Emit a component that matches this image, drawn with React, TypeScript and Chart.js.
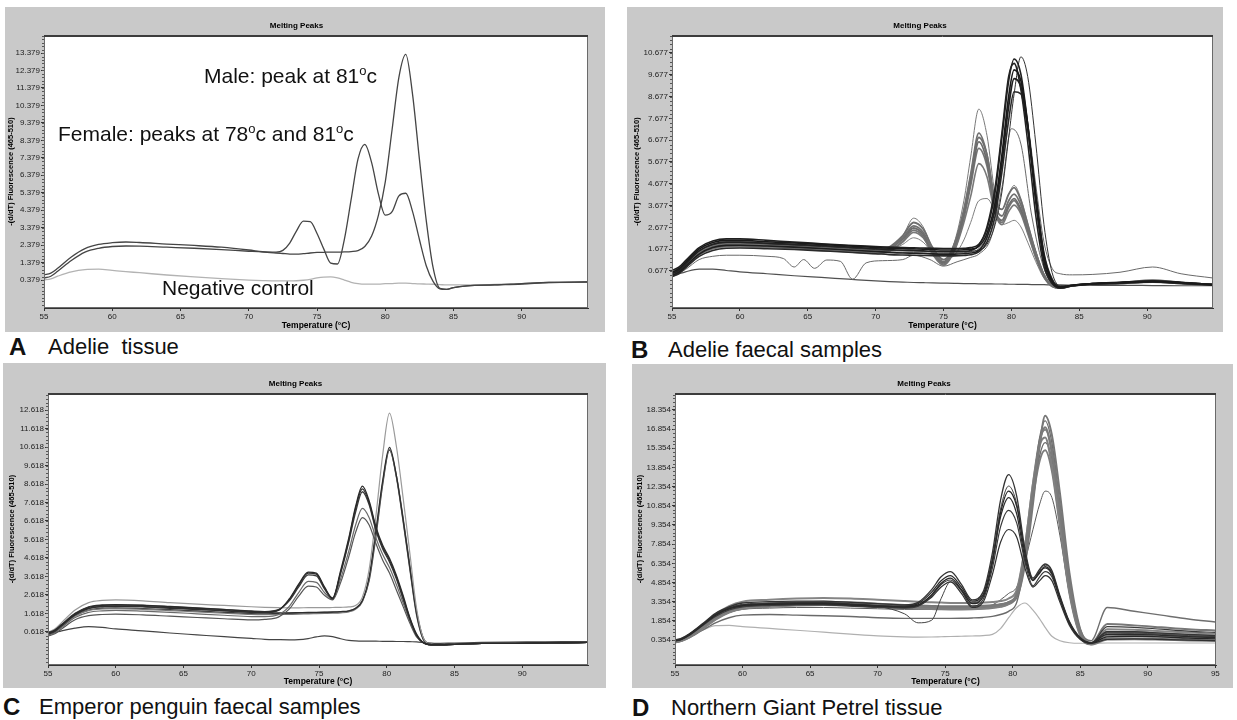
import React, { useEffect, useRef } from "react";
import { Chart, registerables } from "chart.js";

Chart.register(...registerables);

// ---------------- tick labels ----------------
const xTicksABC = [55, 60, 65, 70, 75, 80, 85, 90];
const xTicksD = [55, 60, 65, 70, 75, 80, 85, 90, 95];
const yTicksA = [0.379, 1.379, 2.379, 3.379, 4.379, 5.379, 6.379, 7.379, 8.379, 9.379, 10.379, 11.379, 12.379, 13.379];
const yTicksB = [0.677, 1.677, 2.677, 3.677, 4.677, 5.677, 6.677, 7.677, 8.677, 9.677, 10.677];
const yTicksC = [0.618, 1.618, 2.618, 3.618, 4.618, 5.618, 6.618, 7.618, 8.618, 9.618, 10.618, 11.618, 12.618];
const yTicksD = [0.354, 1.854, 3.354, 4.854, 6.354, 7.854, 9.354, 10.854, 12.354, 13.854, 15.354, 16.854, 18.354];

// ---------------- Panel A : Adelie tissue ----------------
const tempA = [55, 55.5, 56, 57, 58, 59, 60, 61, 62, 64, 66, 68, 70, 71, 72, 72.5, 73, 73.5, 74, 74.5, 75, 75.5, 76, 76.5, 77, 77.5, 78, 78.5, 79, 79.5, 80, 80.5, 81, 81.5, 82, 82.5, 83, 83.5, 84, 84.5, 85, 86, 88, 90, 92, 94.8];
const maleA = [0.67, 0.78, 1.05, 1.7, 2.18, 2.42, 2.52, 2.56, 2.53, 2.44, 2.36, 2.26, 2.1, 2.0, 1.93, 1.9, 1.87, 1.86, 1.89, 1.93, 1.96, 1.97, 1.98, 1.98, 1.99, 2.01, 2.06, 2.3, 2.9, 4.1, 6.0, 9.0, 12.0, 13.3, 11.0, 7.3, 3.8, 1.1, -0.1, -0.15, -0.05, 0.05, 0.1, 0.15, 0.24, 0.27];
const femaleA = [0.5, 0.6, 0.88, 1.5, 1.98, 2.2, 2.3, 2.33, 2.32, 2.26, 2.2, 2.12, 2.03, 1.99, 1.98, 2.08, 2.5, 3.2, 3.75, 3.72, 3.05, 2.15, 1.35, 1.3, 2.7, 5.0, 7.3, 8.15, 7.1, 5.3, 4.1, 4.3, 5.2, 5.35, 4.3, 2.7, 1.2, 0.3, -0.12, -0.15, -0.05, 0.05, 0.1, 0.18, 0.25, 0.27];
const controlA = [0.38, 0.45, 0.6, 0.85, 0.98, 1.0, 0.93, 0.86, 0.8, 0.67, 0.56, 0.46, 0.38, 0.35, 0.33, 0.33, 0.33, 0.34, 0.37, 0.42, 0.5, 0.55, 0.56, 0.5, 0.38, 0.25, 0.18, 0.15, 0.15, 0.15, 0.17, 0.18, 0.2, 0.2, 0.18, 0.16, 0.15, 0.14, 0.12, 0.1, 0.1, 0.1, 0.13, 0.18, 0.23, 0.26];

// ---------------- Panel B : Adelie faecal samples ----------------
const tempB = [55, 55.5, 56, 57, 58, 59, 60, 62, 64, 66, 68, 70, 71, 72, 72.8, 73.5, 74.2, 75, 75.8, 76.5, 77, 77.6, 78.2, 78.8, 79.3, 79.8, 80.2, 80.7, 81.2, 81.8, 82.4, 83, 83.6, 84.5, 86, 88, 90.4, 92.5, 94.8];
const maleB1 = [0.62, 0.78, 1.08, 1.68, 1.98, 2.08, 2.08, 2.02, 1.96, 1.9, 1.83, 1.76, 1.72, 1.7, 1.69, 1.68, 1.66, 1.64, 1.64, 1.65, 1.68, 1.8, 2.4, 3.8, 6.0, 8.7, 9.9, 9.4, 7.4, 4.0, 1.3, 0.2, -0.08, 0.02, 0.1, 0.15, 0.2, 0.14, 0.05];
const maleB2 = [0.55, 0.7, 1.0, 1.6, 1.9, 2.0, 2.0, 1.95, 1.9, 1.84, 1.77, 1.7, 1.66, 1.63, 1.62, 1.6, 1.58, 1.57, 1.57, 1.58, 1.62, 1.85, 2.7, 4.5, 7.0, 9.6, 10.2, 9.0, 6.6, 3.2, 0.9, 0.1, -0.1, 0.0, 0.08, 0.12, 0.18, 0.12, 0.04];
const maleB3 = [0.48, 0.62, 0.9, 1.45, 1.75, 1.85, 1.86, 1.82, 1.77, 1.71, 1.64, 1.57, 1.53, 1.5, 1.49, 1.48, 1.46, 1.45, 1.45, 1.47, 1.5, 1.62, 2.2, 3.5, 5.6, 8.2, 9.5, 9.1, 7.3, 4.1, 1.4, 0.25, -0.05, 0.02, 0.1, 0.14, 0.22, 0.15, 0.06];
const maleB4 = [0.42, 0.55, 0.82, 1.35, 1.62, 1.72, 1.73, 1.7, 1.66, 1.6, 1.54, 1.47, 1.43, 1.41, 1.4, 1.39, 1.38, 1.37, 1.37, 1.39, 1.42, 1.55, 2.0, 3.2, 5.2, 7.6, 8.9, 8.8, 7.2, 4.2, 1.5, 0.3, -0.05, 0.0, 0.08, 0.12, 0.17, 0.1, 0.03];
const maleB5 = [0.7, 0.85, 1.15, 1.75, 2.05, 2.15, 2.15, 2.08, 2.0, 1.93, 1.86, 1.8, 1.77, 1.75, 1.74, 1.73, 1.72, 1.71, 1.71, 1.72, 1.75, 1.9, 2.6, 4.3, 6.8, 9.4, 10.4, 9.7, 7.4, 3.8, 1.1, 0.15, -0.1, 0.0, 0.1, 0.16, 0.22, 0.15, 0.06];
const maleB6 = [0.58, 0.72, 1.02, 1.6, 1.88, 1.98, 1.98, 1.92, 1.86, 1.8, 1.73, 1.66, 1.62, 1.6, 1.59, 1.58, 1.56, 1.55, 1.55, 1.56, 1.58, 1.64, 1.9, 2.8, 4.3, 6.8, 8.8, 10.5, 9.6, 6.5, 2.8, 0.6, 0.0, 0.02, 0.1, 0.14, 0.2, 0.14, 0.05];
const femaleB1 = [0.52, 0.66, 0.96, 1.55, 1.85, 1.95, 1.95, 1.9, 1.84, 1.77, 1.7, 1.63, 1.72, 2.2, 2.75, 2.45, 1.6, 1.1, 1.9, 3.5, 5.1, 7.0, 6.0, 3.7, 3.2, 3.9, 4.2, 3.7, 2.7, 1.5, 0.5, 0.0, -0.1, 0.0, 0.08, 0.12, 0.24, 0.14, 0.06];
const femaleB2 = [0.5, 0.64, 0.93, 1.5, 1.8, 1.9, 1.9, 1.86, 1.8, 1.73, 1.66, 1.58, 1.68, 2.15, 2.65, 2.35, 1.55, 1.05, 1.8, 3.3, 4.8, 6.6, 5.7, 3.5, 3.0, 3.7, 4.0, 3.5, 2.6, 1.4, 0.45, -0.02, -0.1, 0.0, 0.08, 0.12, 0.22, 0.13, 0.05];
const femaleB3 = [0.45, 0.58, 0.86, 1.42, 1.7, 1.8, 1.8, 1.76, 1.7, 1.63, 1.56, 1.48, 1.58, 2.05, 2.55, 2.25, 1.45, 0.95, 1.65, 3.1, 4.6, 6.3, 5.5, 3.4, 2.9, 3.6, 3.9, 3.4, 2.5, 1.3, 0.4, -0.03, -0.1, 0.0, 0.07, 0.1, 0.2, 0.12, 0.05];
const femaleB4 = [0.56, 0.7, 1.0, 1.6, 1.9, 2.0, 2.0, 1.95, 1.89, 1.82, 1.75, 1.68, 1.78, 2.3, 2.9, 2.6, 1.75, 1.2, 1.9, 3.4, 5.0, 6.8, 6.0, 3.9, 3.5, 4.2, 4.5, 3.9, 2.8, 1.5, 0.5, 0.0, -0.08, 0.02, 0.1, 0.14, 0.26, 0.15, 0.06];
const femaleB5 = [0.48, 0.6, 0.88, 1.45, 1.72, 1.82, 1.83, 1.8, 1.75, 1.68, 1.6, 1.52, 1.6, 2.0, 2.45, 2.2, 1.5, 1.0, 1.6, 2.9, 4.1, 5.6, 5.0, 3.3, 2.8, 3.4, 3.7, 3.3, 2.4, 1.3, 0.42, 0.0, -0.08, 0.0, 0.08, 0.1, 0.2, 0.12, 0.05];
const femaleB6 = [0.54, 0.68, 0.98, 1.58, 1.88, 1.98, 1.98, 1.93, 1.87, 1.8, 1.72, 1.65, 1.75, 2.3, 3.1, 2.7, 1.7, 1.1, 2.0, 3.9, 5.9, 8.1, 6.9, 4.2, 3.5, 4.2, 4.6, 4.0, 2.9, 1.6, 0.55, 0.02, -0.1, 0.0, 0.08, 0.12, 0.22, 0.13, 0.05];
const femaleB7 = [0.5, 0.63, 0.92, 1.48, 1.76, 1.86, 1.86, 1.82, 1.77, 1.7, 1.63, 1.55, 1.6, 1.9, 2.2, 2.0, 1.5, 1.2, 1.4, 2.1, 2.9, 3.9, 4.0, 3.4, 2.8, 2.9, 3.0, 2.7, 2.0, 1.1, 0.35, 0.0, -0.05, 0.0, 0.08, 0.1, 0.18, 0.1, 0.04];
const tailB = [0.5, 0.64, 0.94, 1.5, 1.78, 1.88, 1.88, 1.84, 1.78, 1.72, 1.65, 1.58, 1.55, 1.53, 1.52, 1.51, 1.5, 1.5, 1.5, 1.52, 1.56, 1.7, 2.3, 3.7, 5.9, 8.4, 9.5, 9.2, 7.5, 4.6, 2.0, 0.8, 0.55, 0.5, 0.52, 0.62, 0.86, 0.55, 0.36];
const controlB = [0.45, 0.55, 0.64, 0.76, 0.76, 0.7, 0.64, 0.55, 0.46, 0.38, 0.3, 0.22, 0.19, 0.17, 0.15, 0.14, 0.13, 0.12, 0.11, 0.1, 0.1, 0.09, 0.09, 0.08, 0.08, 0.07, 0.07, 0.06, 0.06, 0.05, 0.05, 0.04, 0.04, 0.03, 0.02, 0.02, 0.01, 0.0, 0.0];
const tempWiggleB = [55, 56, 57, 58, 59, 60, 62, 63.2, 64, 64.7, 65.5, 66.4, 67.4, 68.3, 69.3, 70.5, 72, 72.8, 74, 75, 76, 77, 77.6, 78.5, 79.3, 80, 80.7, 81.5, 82.4, 83.2, 84.5, 86, 88, 90.4, 92.5, 94.8];
const wiggleB = [0.4, 0.75, 1.2, 1.35, 1.4, 1.4, 1.35, 1.25, 0.86, 1.2, 0.8, 1.18, 1.12, 0.3, 1.05, 1.15, 1.2, 1.4, 1.2, 0.9, 1.1, 1.3, 1.45, 2.2, 4.5, 7.2, 6.5, 3.2, 0.8, 0.0, 0.0, 0.06, 0.1, 0.15, 0.1, 0.04];

// ---------------- Panel C : Emperor penguin faecal samples ----------------
const tempC = [55, 55.5, 56, 57, 58, 59, 60, 62, 64, 66, 68, 70, 71, 72, 72.8, 73.5, 74.2, 74.8, 75.4, 76, 76.6, 77.2, 77.7, 78.2, 78.7, 79.2, 79.7, 80.2, 80.7, 81.2, 81.7, 82.2, 82.8, 83.5, 85, 87, 89, 91, 93, 94.8];
const femaleC1 = [0.55, 0.7, 1.0, 1.6, 1.95, 2.05, 2.08, 2.05, 1.98, 1.9, 1.82, 1.73, 1.7, 1.8, 2.4, 3.2, 3.85, 3.8, 3.05, 2.45, 3.95, 5.7, 7.4, 8.5, 7.7, 6.3, 5.3, 4.6, 3.7, 2.6, 1.4, 0.5, 0.0, -0.08, -0.05, 0.0, 0.0, 0.02, 0.03, 0.05];
const femaleC2 = [0.5, 0.65, 0.95, 1.55, 1.9, 2.0, 2.03, 2.0, 1.93, 1.85, 1.77, 1.68, 1.66, 1.78, 2.35, 3.15, 3.8, 3.75, 3.0, 2.4, 3.85, 5.6, 7.3, 8.35, 7.6, 6.2, 5.2, 4.5, 3.6, 2.5, 1.35, 0.45, 0.0, -0.08, -0.05, 0.0, 0.0, 0.02, 0.03, 0.05];
const femaleC3 = [0.58, 0.72, 1.02, 1.62, 1.98, 2.08, 2.1, 2.07, 2.0, 1.92, 1.84, 1.75, 1.72, 1.82, 2.3, 3.05, 3.7, 3.65, 2.95, 2.45, 3.8, 5.5, 7.1, 8.2, 7.5, 6.1, 5.1, 4.4, 3.5, 2.4, 1.3, 0.42, 0.0, -0.08, -0.05, 0.0, 0.0, 0.02, 0.03, 0.05];
const femaleC4 = [0.45, 0.58, 0.86, 1.4, 1.68, 1.76, 1.78, 1.74, 1.68, 1.6, 1.52, 1.45, 1.45, 1.55, 2.0, 2.75, 3.35, 3.3, 2.75, 2.4, 3.5, 5.0, 6.4, 7.3, 6.8, 5.7, 4.8, 4.1, 3.2, 2.2, 1.2, 0.4, 0.0, -0.08, -0.05, 0.0, 0.0, 0.02, 0.03, 0.05];
const femaleC5 = [0.4, 0.52, 0.78, 1.28, 1.5, 1.56, 1.58, 1.54, 1.47, 1.4, 1.33, 1.27, 1.3, 1.42, 1.85, 2.55, 3.1, 3.05, 2.6, 2.35, 3.3, 4.7, 6.0, 6.8, 6.4, 5.4, 4.5, 3.8, 2.9, 2.0, 1.1, 0.35, 0.0, -0.08, -0.05, 0.0, 0.0, 0.02, 0.03, 0.05];
const maleC1 = [0.6, 0.78, 1.12, 1.8, 2.2, 2.32, 2.35, 2.3, 2.2, 2.12, 2.05, 1.98, 1.95, 1.93, 1.92, 1.92, 1.93, 1.93, 1.93, 1.94, 1.95, 1.97, 2.05, 2.5, 4.0, 6.9, 10.2, 12.45, 10.7, 7.9, 4.9, 1.9, 0.15, -0.08, -0.05, 0.0, 0.0, 0.02, 0.03, 0.05];
const maleC2 = [0.52, 0.66, 0.96, 1.55, 1.88, 1.98, 2.0, 1.97, 1.9, 1.83, 1.76, 1.68, 1.66, 1.65, 1.65, 1.66, 1.67, 1.68, 1.69, 1.7, 1.72, 1.76, 1.9, 2.3, 3.6, 6.1, 8.8, 10.6, 9.1, 6.7, 4.1, 1.6, 0.1, -0.08, -0.05, 0.0, 0.0, 0.02, 0.03, 0.05];
const maleC3 = [0.48, 0.62, 0.9, 1.48, 1.78, 1.86, 1.88, 1.84, 1.77, 1.7, 1.63, 1.56, 1.55, 1.56, 1.57, 1.58, 1.6, 1.61, 1.62, 1.63, 1.65, 1.7, 1.85, 2.25, 3.5, 6.0, 8.7, 10.5, 9.0, 6.6, 4.0, 1.5, 0.1, -0.08, -0.05, 0.0, 0.0, 0.02, 0.03, 0.05];
const maleC4 = [0.5, 0.64, 0.93, 1.5, 1.8, 1.9, 1.92, 1.88, 1.82, 1.75, 1.68, 1.61, 1.6, 1.62, 1.63, 1.64, 1.65, 1.66, 1.67, 1.68, 1.7, 1.74, 1.88, 2.3, 3.4, 5.8, 8.6, 10.45, 9.1, 6.8, 4.2, 1.7, 0.15, -0.08, -0.05, 0.0, 0.0, 0.02, 0.03, 0.05];
const controlC = [0.5, 0.58, 0.68, 0.82, 0.9, 0.86, 0.78, 0.68, 0.56, 0.46, 0.36, 0.27, 0.22, 0.2, 0.19, 0.2, 0.26, 0.35, 0.4, 0.36, 0.25, 0.16, 0.13, 0.12, 0.12, 0.12, 0.11, 0.11, 0.1, 0.1, 0.09, 0.08, 0.04, 0.0, 0.02, 0.05, 0.07, 0.08, 0.09, 0.1];

// ---------------- Panel D : Northern Giant Petrel tissue ----------------
const tempD = [55, 55.5, 56, 57, 58, 59, 60, 62, 64, 66, 68, 70, 72, 73, 74, 74.7, 75.4, 76.2, 77, 77.8, 78.5, 79.1, 79.7, 80.3, 80.9, 81.5, 82, 82.4, 82.9, 83.5, 84.2, 85, 85.8, 87, 89, 91, 93, 95];
const femaleD1 = [0.3, 0.45, 0.75, 1.55, 2.35, 2.85, 3.1, 3.2, 3.25, 3.25, 3.15, 3.05, 3.0, 3.2, 4.1, 5.0, 5.4, 4.5, 3.4, 3.9, 6.6, 10.0, 11.5, 10.2, 6.8, 5.0, 5.7, 6.0, 5.5, 3.6, 1.7, 0.5, 0.15, 0.8, 0.8, 0.72, 0.62, 0.55];
const femaleD2 = [0.35, 0.5, 0.8, 1.6, 2.45, 2.95, 3.25, 3.35, 3.4, 3.4, 3.3, 3.2, 3.1, 3.3, 4.3, 5.3, 5.7, 4.7, 3.5, 4.1, 7.2, 11.3, 13.3, 11.6, 7.5, 5.2, 5.9, 6.3, 5.8, 3.8, 1.8, 0.55, 0.15, 1.0, 1.0, 0.9, 0.8, 0.7];
const femaleD3 = [0.28, 0.42, 0.72, 1.5, 2.3, 2.8, 3.05, 3.15, 3.2, 3.2, 3.1, 3.0, 2.95, 3.1, 3.9, 4.8, 5.2, 4.3, 3.2, 3.7, 6.4, 10.3, 12.0, 10.8, 7.2, 5.1, 5.6, 6.1, 5.6, 3.7, 1.7, 0.5, 0.12, 0.6, 0.65, 0.6, 0.5, 0.45];
const femaleD4 = [0.25, 0.4, 0.68, 1.45, 2.2, 2.7, 2.95, 3.05, 3.1, 3.1, 3.0, 2.9, 2.85, 3.0, 3.8, 4.7, 5.05, 4.2, 3.0, 3.5, 6.0, 9.2, 10.5, 9.5, 6.5, 4.6, 5.3, 5.7, 5.3, 3.5, 1.6, 0.45, 0.1, 1.4, 1.35, 1.2, 1.05, 0.95];
const femaleD5 = [0.3, 0.45, 0.75, 1.5, 2.3, 2.8, 3.0, 3.1, 3.15, 3.15, 3.05, 2.95, 2.9, 3.05, 3.7, 4.5, 4.9, 4.0, 2.9, 3.3, 5.5, 8.0, 9.0, 8.4, 6.0, 4.5, 5.0, 5.4, 5.0, 3.3, 1.5, 0.4, 0.1, 0.4, 0.45, 0.4, 0.35, 0.3];
const femaleD6 = [0.32, 0.47, 0.78, 1.55, 2.4, 2.9, 3.15, 3.25, 3.3, 3.3, 3.2, 3.0, 2.4, 1.7, 1.9, 3.6, 4.9, 4.3, 3.3, 3.8, 6.8, 10.6, 12.4, 11.0, 7.3, 5.0, 5.8, 6.2, 5.7, 3.7, 1.75, 0.5, 0.12, 0.9, 0.9, 0.8, 0.7, 0.62];
const maleD1 = [0.2, 0.35, 0.6, 1.3, 2.1, 2.65, 2.95, 3.1, 3.2, 3.25, 3.2, 3.1, 3.0, 2.95, 2.92, 2.9, 2.9, 2.9, 2.9, 2.95, 3.0, 3.1, 3.3, 3.9, 7.0, 12.0, 15.8, 17.0, 15.0, 10.5, 4.8, 0.9, 0.05, 1.0, 0.95, 0.85, 0.75, 0.7];
const maleD2 = [0.25, 0.4, 0.66, 1.38, 2.2, 2.75, 3.05, 3.2, 3.3, 3.35, 3.3, 3.2, 3.1, 3.05, 3.02, 3.0, 3.0, 3.0, 3.0, 3.03, 3.08, 3.15, 3.3, 3.7, 6.2, 11.0, 15.6, 17.9, 16.4, 11.8, 5.6, 1.2, 0.1, 1.6, 1.5, 1.35, 1.2, 1.1];
const maleD3 = [0.18, 0.32, 0.56, 1.25, 2.0, 2.55, 2.85, 3.0, 3.1, 3.15, 3.1, 3.0, 2.9, 2.86, 2.83, 2.82, 2.8, 2.8, 2.8, 2.84, 2.9, 3.0, 3.2, 4.0, 7.5, 12.5, 15.6, 16.2, 14.0, 9.5, 4.2, 0.8, 0.05, 0.7, 0.7, 0.62, 0.55, 0.5];
const maleD4 = [0.15, 0.3, 0.52, 1.2, 1.95, 2.5, 2.8, 2.95, 3.05, 3.1, 3.05, 2.95, 2.85, 2.8, 2.78, 2.76, 2.75, 2.75, 2.76, 2.8, 2.86, 2.95, 3.15, 3.8, 6.8, 11.5, 14.4, 15.2, 13.6, 9.2, 4.0, 0.7, 0.0, 0.4, 0.42, 0.38, 0.32, 0.28];
const maleD5 = [0.22, 0.37, 0.62, 1.33, 2.15, 2.7, 3.0, 3.15, 3.25, 3.3, 3.25, 3.15, 3.05, 3.0, 2.97, 2.95, 2.95, 2.95, 2.96, 3.0, 3.05, 3.15, 3.35, 4.0, 7.2, 12.2, 16.2, 17.5, 15.8, 11.0, 5.2, 1.2, 0.3, 2.9, 2.6, 2.3, 2.0, 1.76];
const maleD6 = [0.28, 0.45, 0.72, 1.45, 2.35, 3.0, 3.35, 3.5, 3.6, 3.65, 3.6, 3.5, 3.4, 3.35, 3.3, 3.28, 3.26, 3.25, 3.25, 3.28, 3.32, 3.4, 3.6, 4.3, 7.6, 12.6, 16.0, 16.8, 15.2, 10.4, 4.6, 0.9, 0.05, 1.2, 1.15, 1.05, 0.95, 0.85];
const maleD7 = [0.15, 0.28, 0.5, 1.1, 1.7, 2.1, 2.3, 2.35, 2.3, 2.25, 2.2, 2.1, 2.05, 2.05, 2.05, 2.05, 2.05, 2.06, 2.08, 2.12, 2.2, 2.35, 2.6, 3.3, 6.5, 11.5, 14.8, 15.8, 14.5, 10.0, 4.5, 0.8, 0.0, 0.5, 0.5, 0.45, 0.4, 0.35];
const outlierD = [0.2, 0.35, 0.6, 1.3, 2.0, 2.5, 2.75, 2.85, 2.9, 2.9, 2.85, 2.8, 2.75, 2.75, 2.75, 2.75, 2.75, 2.75, 2.8, 2.9, 3.1, 3.5, 4.0, 4.5, 6.5, 9.0, 11.0, 12.0, 11.5, 8.5, 4.0, 0.8, 0.1, 0.9, 0.85, 0.75, 0.65, 0.6];
const controlD = [0.35, 0.45, 0.65, 1.1, 1.48, 1.5, 1.4, 1.26, 1.12, 0.97, 0.82, 0.68, 0.6, 0.58, 0.59, 0.61, 0.63, 0.65, 0.67, 0.7, 0.8, 1.25, 2.1, 2.9, 3.25, 2.7, 2.0, 1.35, 0.65, 0.3, 0.14, 0.1, 0.1, 0.12, 0.12, 0.12, 0.12, 0.12];

// ---------------- styling ----------------
const TICK_FONT = "'Liberation Sans', Arial, Helvetica, sans-serif";
const SANS = "'Liberation Sans', Arial, Helvetica, sans-serif";
const PANEL_BG = "#c9c9c9";

type Line = { temps: number[]; values: number[]; color: string; width: number };
type Spec = {
  left: number; top: number; w: number; h: number;
  yAxisW: number; xAxisH: number; padRight: number;
  titleTop: number; titleBottom: number; yTitlePad: number;
  xMax: number; yMin: number; yMax: number; minorStep: number;
};

const L = (temps: number[], values: number[], color: string, width: number): Line => ({ temps, values, color, width });

const linesA: Line[] = [
  L(tempA, maleA, "#454545", 1.3),
  L(tempA, femaleA, "#454545", 1.3),
  L(tempA, controlA, "#b3b3b3", 1.3),
];
const linesB: Line[] = [
  L(tempB, maleB1, "#1a1a1a", 1.6),
  L(tempB, maleB2, "#222222", 1.6),
  L(tempB, maleB3, "#1e1e1e", 1.6),
  L(tempB, maleB4, "#2a2a2a", 1.6),
  L(tempB, maleB5, "#202020", 1.6),
  L(tempB, maleB6, "#333333", 1.0),
  L(tempB, tailB, "#6a6a6a", 1.0),
  L(tempB, femaleB1, "#707070", 1.8),
  L(tempB, femaleB2, "#6c6c6c", 1.8),
  L(tempB, femaleB3, "#747474", 1.8),
  L(tempB, femaleB4, "#6e6e6e", 1.8),
  L(tempB, femaleB5, "#787878", 1.6),
  L(tempB, femaleB6, "#7a7a7a", 1.0),
  L(tempB, femaleB7, "#808080", 1.0),
  L(tempWiggleB, wiggleB, "#6a6a6a", 1.0),
  L(tempB, controlB, "#505050", 1.2),
];
const linesC: Line[] = [
  L(tempC, femaleC1, "#2a2a2a", 1.3),
  L(tempC, femaleC2, "#303030", 1.3),
  L(tempC, femaleC3, "#383838", 1.3),
  L(tempC, femaleC4, "#6a6a6a", 1.2),
  L(tempC, femaleC5, "#555555", 1.2),
  L(tempC, maleC1, "#9a9a9a", 1.2),
  L(tempC, maleC2, "#2e2e2e", 1.3),
  L(tempC, maleC3, "#777777", 1.2),
  L(tempC, maleC4, "#3a3a3a", 1.3),
  L(tempC, controlC, "#444444", 1.2),
];
const linesD: Line[] = [
  L(tempD, femaleD1, "#2b2b2b", 1.3),
  L(tempD, femaleD2, "#333333", 1.3),
  L(tempD, femaleD3, "#262626", 1.3),
  L(tempD, femaleD4, "#3a3a3a", 1.2),
  L(tempD, femaleD5, "#303030", 1.2),
  L(tempD, femaleD6, "#444444", 1.0),
  L(tempD, maleD1, "#7a7a7a", 2.2),
  L(tempD, maleD2, "#777777", 2.0),
  L(tempD, maleD3, "#808080", 2.2),
  L(tempD, maleD4, "#7c7c7c", 2.0),
  L(tempD, maleD5, "#6e6e6e", 1.4),
  L(tempD, maleD6, "#858585", 2.0),
  L(tempD, maleD7, "#6a6a6a", 1.4),
  L(tempD, outlierD, "#5a5a5a", 1.0),
  L(tempD, controlD, "#b0b0b0", 1.2),
];

const specA: Spec = { left: 5, top: 7, w: 600, h: 325, yAxisW: 39, xAxisH: 24, padRight: 17, titleTop: 14.2, titleBottom: 4.2, yTitlePad: 1, xMax: 94.85, yMin: -1.22, yMax: 14.41, minorStep: 0.2 };
const specB: Spec = { left: 627, top: 7, w: 596, h: 325, yAxisW: 45, xAxisH: 24, padRight: 10, titleTop: 14.2, titleBottom: 4.2, yTitlePad: 5, xMax: 94.85, yMin: -1.02, yMax: 11.5, minorStep: 0.2 };
const specC: Spec = { left: 3, top: 363, w: 603, h: 325, yAxisW: 45, xAxisH: 23, padRight: 18, titleTop: 15.7, titleBottom: 4.7, yTitlePad: 4, xMax: 94.85, yMin: -1.17, yMax: 13.54, minorStep: 0.2 };
const specD: Spec = { left: 632, top: 364, w: 601, h: 324, yAxisW: 43, xAxisH: 23, padRight: 17, titleTop: 14.7, titleBottom: 4.7, yTitlePad: 3, xMax: 95.05, yMin: -1.6, yMax: 19.68, minorStep: 0.3 };

const panelDeco = {
  id: "panelDeco",
  beforeDraw(chart: any) {
    const { ctx, chartArea: a, width, height } = chart;
    ctx.save();
    ctx.fillStyle = PANEL_BG;
    ctx.fillRect(0, 0, width, height);
    ctx.fillStyle = "#ffffff";
    ctx.fillRect(a.left, a.top, a.right - a.left, a.bottom - a.top);
    ctx.restore();
  },
  afterDraw(chart: any, _args: any, opts: any) {
    const { ctx, chartArea: a, scales } = chart;
    ctx.save();
    ctx.lineWidth = 1;
    ctx.strokeStyle = "#6a6a6a";
    ctx.strokeRect(a.left + 0.5, a.top + 0.5, a.right - a.left - 1, a.bottom - a.top - 1);
    ctx.strokeStyle = "#3c3c3c";
    ctx.beginPath();
    ctx.moveTo(a.left, a.top + 0.5);
    ctx.lineTo(a.right, a.top + 0.5);
    ctx.moveTo(a.left, a.top + 1.5);
    ctx.lineTo(a.right, a.top + 1.5);
    ctx.stroke();
    const y = scales.y;
    const step = opts.minorStep;
    const base = opts.minorBase;
    ctx.strokeStyle = "#555";
    let v = base - Math.floor((base - y.min) / step) * step;
    for (; v <= y.max; v += step) {
      const py = Math.round(y.getPixelForValue(v)) + 0.5;
      ctx.beginPath();
      ctx.moveTo(a.left - 2, py);
      ctx.lineTo(a.left, py);
      ctx.stroke();
    }
    ctx.restore();
  },
};

function MeltPanel({ spec, lines, xTicks, yTicks }: { spec: Spec; lines: Line[]; xTicks: number[]; yTicks: number[] }) {
  const ref = useRef<HTMLCanvasElement | null>(null);
  useEffect(() => {
    if (!ref.current) return;
    const tickFont = { family: TICK_FONT, size: 8 };
    const chart = new Chart(ref.current, {
      type: "line",
      data: {
        datasets: lines.map((l) => ({
          data: l.temps.map((t, i) => ({ x: t, y: l.values[i] })),
          borderColor: l.color,
          borderWidth: l.width,
          pointRadius: 0,
          fill: false,
          cubicInterpolationMode: "monotone",
        })),
      },
      options: {
        responsive: false,
        animation: false,
        events: [],
        layout: { padding: { left: 0, top: 0, bottom: 0, right: spec.padRight } },
        plugins: {
          legend: { display: false },
          tooltip: { enabled: false },
          title: {
            display: true,
            text: "Melting Peaks",
            color: "#000",
            font: { family: SANS, size: 8, weight: "bold" },
            padding: { top: spec.titleTop, bottom: spec.titleBottom },
          },
          panelDeco: { minorStep: spec.minorStep, minorBase: yTicks[0] },
        } as any,
        scales: {
          x: {
            type: "linear",
            min: 55,
            max: spec.xMax,
            afterBuildTicks: (s: any) => { s.ticks = xTicks.map((v) => ({ value: v })); },
            afterFit: (s: any) => { s.height = spec.xAxisH; },
            grid: { display: true, drawOnChartArea: false, drawTicks: true, tickLength: 3, color: "#333" },
            border: { display: true, color: "#333", width: 1 },
            ticks: { color: "#222", font: tickFont, padding: 1, maxRotation: 0, minRotation: 0, autoSkip: false, callback: (v: any) => String(v) },
            title: { display: true, text: "Temperature (°C)", color: "#000", font: { family: SANS, size: 8.5, weight: "bold" }, padding: { top: 0, bottom: 1 } },
          },
          y: {
            type: "linear",
            min: spec.yMin,
            max: spec.yMax,
            afterBuildTicks: (s: any) => { s.ticks = yTicks.map((v) => ({ value: v })); },
            afterFit: (s: any) => { s.width = spec.yAxisW; },
            grid: { display: true, drawOnChartArea: false, drawTicks: true, tickLength: 3, color: "#333" },
            border: { display: true, color: "#333", width: 1 },
            ticks: { color: "#222", font: tickFont, padding: 1, autoSkip: false, callback: (v: any) => Number(v).toFixed(3) },
            title: { display: true, text: "-(d/dT) Fluorescence (465-510)", color: "#000", font: { family: SANS, size: 7.5, weight: "bold" }, padding: { top: spec.yTitlePad, bottom: 0 } },
          },
        },
      } as any,
      plugins: [panelDeco as any],
    });
    return () => chart.destroy();
  }, []);
  return (
    <div style={{ position: "absolute", left: spec.left, top: spec.top, width: spec.w, height: spec.h }}>
      <canvas ref={ref} width={spec.w} height={spec.h} style={{ display: "block" }} />
    </div>
  );
}

function Txt({ left, baseline, size, bold, children }: { left: number; baseline: number; size: number; bold?: boolean; children: React.ReactNode }) {
  return (
    <div
      style={{
        position: "absolute",
        left,
        top: baseline - 0.8465 * size,
        fontFamily: SANS,
        fontSize: size,
        lineHeight: `${size}px`,
        fontWeight: bold ? "bold" : "normal",
        whiteSpace: "pre",
        color: "#111",
      }}
    >
      {children}
    </div>
  );
}

const Deg = () => <span style={{ fontSize: 13, position: "relative", top: -8 }}>o</span>;

export default function App() {
  return (
    <div style={{ position: "absolute", left: 0, top: 0, width: 1237, height: 720, background: "#fff", overflow: "hidden" }}>
      <MeltPanel spec={specA} lines={linesA} xTicks={xTicksABC} yTicks={yTicksA} />
      <MeltPanel spec={specB} lines={linesB} xTicks={xTicksABC} yTicks={yTicksB} />
      <MeltPanel spec={specC} lines={linesC} xTicks={xTicksABC} yTicks={yTicksC} />
      <MeltPanel spec={specD} lines={linesD} xTicks={xTicksD} yTicks={yTicksD} />

      <Txt left={204} baseline={83} size={21}>Male: peak at 81<Deg />c</Txt>
      <Txt left={58} baseline={141} size={21}>Female: peaks at 78<Deg />c and 81<Deg />c</Txt>
      <Txt left={162} baseline={295} size={21}>Negative control</Txt>

      <Txt left={9} baseline={355} size={24} bold>A</Txt>
      <Txt left={48} baseline={355} size={22}>Adelie  tissue</Txt>
      <Txt left={631} baseline={358} size={24} bold>B</Txt>
      <Txt left={668} baseline={358} size={22}>Adelie faecal samples</Txt>
      <Txt left={3} baseline={715} size={24} bold>C</Txt>
      <Txt left={39} baseline={715} size={22}>Emperor penguin faecal samples</Txt>
      <Txt left={632} baseline={716} size={24} bold>D</Txt>
      <Txt left={671} baseline={716} size={22}>Northern Giant Petrel tissue</Txt>
    </div>
  );
}
